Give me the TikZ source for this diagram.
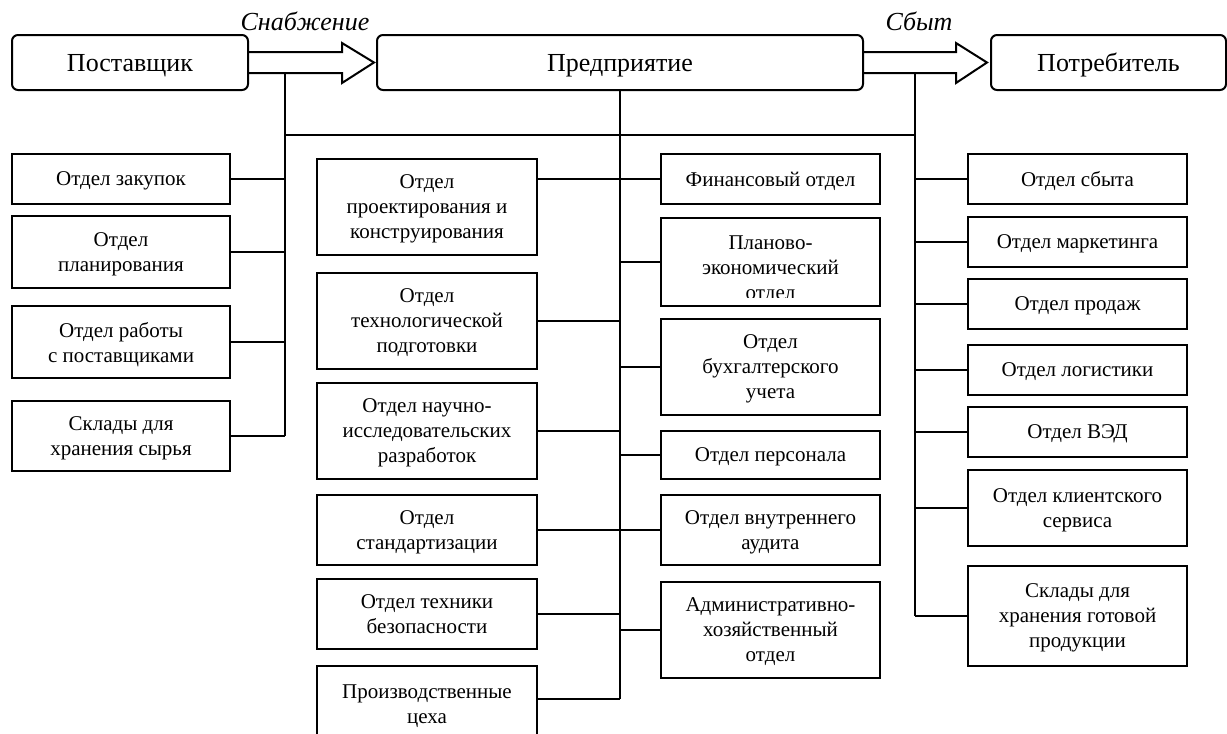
\documentclass[tikz,border=0pt]{standalone}
\usepackage{fontspec}
\setmainfont{Liberation Serif}
\begin{document}
\begin{tikzpicture}[x=1pt,y=-1pt,line width=2pt,
  box/.style={draw, rectangle, inner sep=0pt, align=center, text depth=0pt,
    font=\fontsize{21}{25}\selectfont},
  txt/.style={inner sep=0pt, align=center, text depth=0pt,
    font=\fontsize{21}{25}\selectfont},
  colL/.style={box, minimum width=218pt},
  colM/.style={box, minimum width=220pt},
  colN/.style={box, minimum width=219pt},
  colR/.style={box, minimum width=219pt},
  topbox/.style={draw, rectangle, rounded corners=6pt, inner sep=0pt, text depth=0pt,
    minimum height=55pt, font=\fontsize{26}{30}\selectfont},
  lab/.style={inner sep=0pt, text depth=0pt, font=\fontsize{26}{30}\selectfont\itshape},
  flow/.style={line join=miter},
  link/.style={line width=2pt}]
\useasboundingbox (0,0) rectangle (1227,734);
\begin{scope}
\clip (0,0) rectangle (1227,734);

% top row
\node[topbox, minimum width=236pt] (sup) at (130,62.5) {Поставщик};
\node[topbox, minimum width=486pt] (ent) at (620,62.5) {Предприятие};
\node[topbox, minimum width=235pt] (cons) at (1108.5,62.5) {Потребитель};
\node[lab] (snab) at (305,21) {Снабжение};
\node[lab] (sbyt) at (919,21) {Сбыт};

% hollow flow arrows
\draw[flow] ([yshift=10.5pt]sup.east) -- ([xshift=-34pt,yshift=10.5pt]ent.west)
  -- ([xshift=-34pt,yshift=19.5pt]ent.west) -- ([xshift=-2pt]ent.west)
  -- ([xshift=-34pt,yshift=-20.5pt]ent.west) -- ([xshift=-34pt,yshift=-10.5pt]ent.west)
  -- ([yshift=-10.5pt]sup.east);
\draw[flow] ([yshift=10.5pt]ent.east) -- ([xshift=-34pt,yshift=10.5pt]cons.west)
  -- ([xshift=-34pt,yshift=19.5pt]cons.west) -- ([xshift=-3pt]cons.west)
  -- ([xshift=-34pt,yshift=-20.5pt]cons.west) -- ([xshift=-34pt,yshift=-10.5pt]cons.west)
  -- ([yshift=-10.5pt]ent.east);

% supply departments
\node[colL, minimum height=50pt] (zak) at (121,179) {Отдел закупок};
\node[colL, minimum height=72pt] (plan) at (121,252) {Отдел\\планирования};
\node[colL, minimum height=72pt] (rab) at (121,342) {Отдел работы\\с поставщиками};
\node[colL, minimum height=70pt] (skl1) at (121,436) {Склады для\\хранения сырья};

% enterprise departments, left
\node[colM, minimum height=96pt] (proekt) at (427,207) {Отдел\\проектирования и\\конструирования};
\node[colM, minimum height=96pt] (tech) at (427,321) {Отдел\\технологической\\подготовки};
\node[colM, minimum height=96pt] (nauch) at (427,431) {Отдел научно-\\исследовательских\\разработок};
\node[colM, minimum height=70pt] (stand) at (427,530) {Отдел\\стандартизации};
\node[colM, minimum height=70pt] (tb) at (427,614) {Отдел техники\\безопасности};
\node[colM, minimum height=76pt] (prod) at (427,704) {Производственные\\цеха};

% enterprise departments, right
\node[colN, minimum height=50pt] (fin) at (770.5,179) {Финансовый отдел};
\node[colN, minimum height=88pt] (planek) at (770.5,262) {};
\begin{scope}
\clip (planek.north west) rectangle ([yshift=10pt]planek.south east);
\node[txt] (planektxt) at ([yshift=-6pt]planek.center) {Планово-\\экономический\\отдел};
\end{scope}
\node[colN, minimum height=96pt] (buh) at (770.5,367) {Отдел\\бухгалтерского\\учета};
\node[colN, minimum height=48pt] (pers) at (770.5,455) {Отдел персонала};
\node[colN, minimum height=70pt] (audit) at (770.5,530) {Отдел внутреннего\\аудита};
\node[colN, minimum height=96pt] (ahd) at (770.5,630) {Административно-\\хозяйственный\\отдел};

% sales departments
\node[colR, minimum height=50pt] (sbytd) at (1077.5,179) {Отдел сбыта};
\node[colR, minimum height=50pt] (mark) at (1077.5,242) {Отдел маркетинга};
\node[colR, minimum height=50pt] (prodazh) at (1077.5,304) {Отдел продаж};
\node[colR, minimum height=50pt] (logi) at (1077.5,370) {Отдел логистики};
\node[colR, minimum height=50pt] (ved) at (1077.5,432) {Отдел ВЭД};
\node[colR, minimum height=76pt] (klient) at (1077.5,508) {Отдел клиентского\\сервиса};
\node[colR, minimum height=100pt] (skl2) at (1077.5,616) {Склады для\\хранения готовой\\продукции};

% bus lines
\coordinate (jL) at (285,73);
\coordinate (jR) at (915,73);
\coordinate (hL) at (285,135);
\coordinate (hR) at (915,135);
\coordinate (pj) at ([yshift=5pt]prod.east);
\draw[link] (jL) -- (jL |- skl1.east);
\draw[link] (jR) -- (jR |- skl2.east);
\draw[link] (hL) -- (hR);
\draw[link] (ent.south) -- (ent.south |- pj);

% branches
\foreach \n in {zak,plan,rab,skl1}
  \draw[link] (\n.east) -- (\n.east -| jL);
\foreach \n in {sbytd,mark,prodazh,logi,ved,klient,skl2}
  \draw[link] (\n.west) -- (\n.west -| jR);
\draw[link] (proekt.east |- fin.west) -- (fin.west);
\draw[link] (stand.east) -- (audit.west);
\foreach \n in {tech,nauch,tb}
  \draw[link] (\n.east) -- (\n.east -| ent.south);
\draw[link] (pj) -- (pj -| ent.south);
\foreach \n in {planek,buh,pers,ahd}
  \draw[link] (\n.west) -- (\n.west -| ent.south);
\end{scope}
\end{tikzpicture}
\end{document}
